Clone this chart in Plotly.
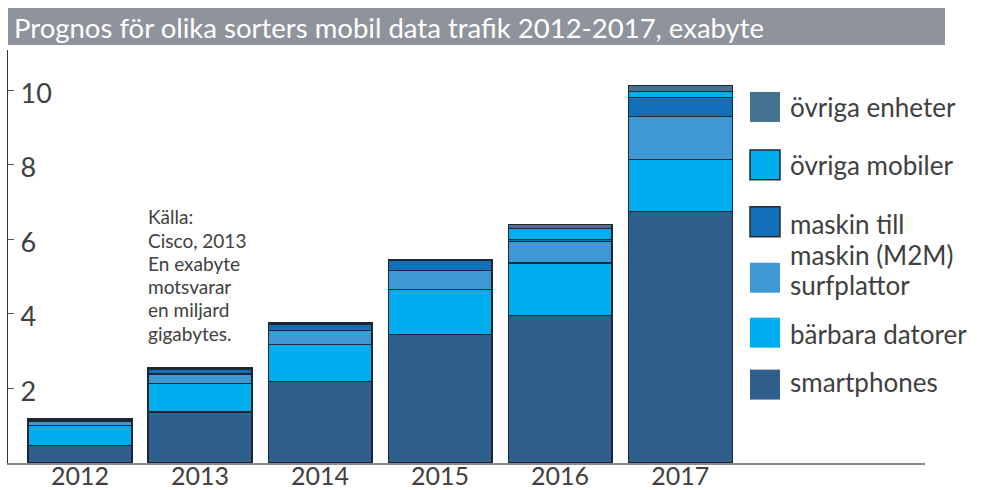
import plotly.graph_objects as go

years = ["2012", "2013", "2014", "2015", "2016", "2017"]
smartphones = [0.47, 1.37, 2.19, 3.44, 3.97, 6.75]
barbara = [0.53, 0.77, 1.00, 1.21, 1.40, 1.39]
surfplattor = [0.11, 0.25, 0.36, 0.51, 0.58, 1.16]
m2m = [0.03, 0.13, 0.17, 0.28, 0.04, 0.52]
ovriga_mobiler = [0.02, 0.02, 0.02, 0.00, 0.31, 0.16]
ovriga_enheter = [0.03, 0.03, 0.03, 0.02, 0.10, 0.16]

series = [
    ("smartphones", smartphones, "#305f8e"),
    ("bärbara datorer", barbara, "#00adee"),
    ("surfplattor", surfplattor, "#3e98d4"),
    ("maskin till maskin (M2M)", m2m, "#1170b9"),
    ("övriga mobiler", ovriga_mobiler, "#00adee"),
    ("övriga enheter", ovriga_enheter, "#44738f"),
]
y_ticks = [2, 4, 6, 8, 10]
title_text = "Prognos för olika sorters mobil data trafik 2012-2017, exabyte"
note_lines = ["Källa:", "Cisco, 2013", "En exabyte", "motsvarar", "en miljard", "gigabytes."]

W, H = 984, 490
L, R, T, B = 8, 925, 50, 463.5
FONT = "Lato"
TXT = "#404040"

def px(x):
    return (x - L) / (R - L)

def py(y):
    return (B - y) / (B - T)

fig = go.Figure()
for name, vals, col in series:
    fig.add_trace(go.Bar(
        x=years, y=vals, name=name, width=0.866,
        marker=dict(color=col, line=dict(color="#1e2833", width=1.2)),
        showlegend=False,
    ))

shapes = []
annotations = []
# title bar
shapes.append(dict(type="rect", xref="paper", yref="paper",
                   x0=px(8), x1=px(945), y0=py(45), y1=py(8),
                   fillcolor="#8f939b", line=dict(width=0), layer="above"))
annotations.append(dict(xref="paper", yref="paper", x=px(12), y=py(27),
                        xanchor="left", yanchor="middle", showarrow=False,
                        text=title_text, font=dict(family=FONT, size=27.5, color="white")))

# note, one line at a time
for i, ln in enumerate(note_lines):
    annotations.append(dict(xref="paper", yref="paper", x=px(146), y=py(217 + 23.3 * i),
                            xanchor="left", yanchor="middle", showarrow=False,
                            text=ln, font=dict(family=FONT, size=19, color=TXT)))

# legend (custom)
legend_items = [
    ("övriga enheter", "#44738f", None, 107, ["övriga enheter"], [107]),
    ("övriga mobiler", "#00adee", "#2a2a2a", 165, ["övriga mobiler"], [165]),
    ("maskin till maskin (M2M)", "#1170b9", "#2a2a2a", 222, ["maskin till", "maskin (M2M)"], [224, 255]),
    ("surfplattor", "#3e98d4", None, 278, ["surfplattor"], [285]),
    ("bärbara datorer", "#00adee", None, 333, ["bärbara datorer"], [334]),
    ("smartphones", "#305f8e", None, 385, ["smartphones"], [382]),
]
for name, col, border, cy, lines, tys in legend_items:
    shapes.append(dict(type="rect", xref="paper", yref="paper",
                       x0=px(750), x1=px(780), y0=py(cy + 15), y1=py(cy - 15),
                       fillcolor=col,
                       line=dict(color=border if border else col, width=1.5 if border else 0)))
    for ln, ty in zip(lines, tys):
        annotations.append(dict(xref="paper", yref="paper", x=px(788), y=py(ty),
                                xanchor="left", yanchor="middle", showarrow=False,
                                text=ln, font=dict(family=FONT, size=26, color=TXT)))

fig.update_layout(
    barmode="stack",
    width=W, height=H,
    margin=dict(l=L, r=W - R, t=T, b=H - B, pad=0),
    paper_bgcolor="white", plot_bgcolor="white",
    shapes=shapes, annotations=annotations,
    xaxis=dict(type="category", range=[-0.6, 7.04], showgrid=False, zeroline=False,
               automargin=False,
               showline=True, linecolor="#8a8a8a", linewidth=2, ticks="",
               tickfont=dict(family=FONT, size=25, color=TXT), ticklabelstandoff=-10),
    yaxis=dict(range=[0, (B - T) / 37.3], tickvals=y_ticks, showgrid=False, zeroline=False,
               automargin=False,
               showline=True, linecolor="#333333", linewidth=1,
               ticks="inside", ticklen=6, tickcolor="#555555",
               ticklabelposition="inside", ticklabelstandoff=9, ticklabelshift=3,
               tickfont=dict(family=FONT, size=27, color=TXT)),
    bargap=0.134,
)

fig.write_html("out.html")
